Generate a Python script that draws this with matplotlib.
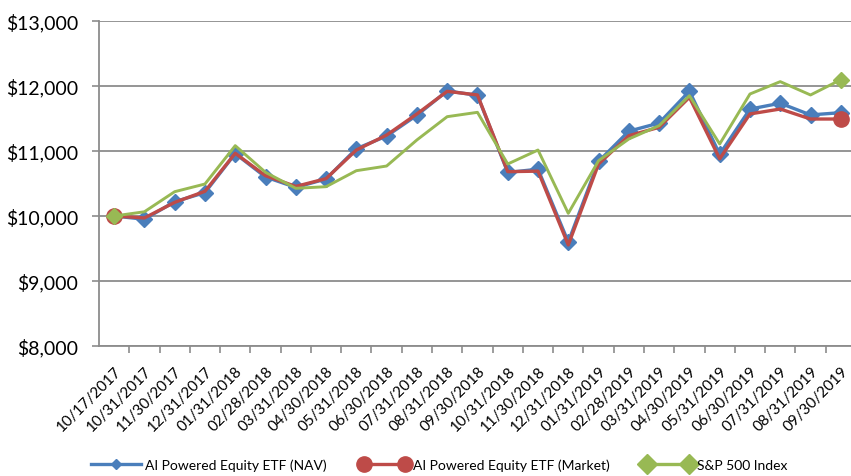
import matplotlib.pyplot as plt
from matplotlib.lines import Line2D
from matplotlib.legend_handler import HandlerLine2D
from matplotlib.ticker import FuncFormatter

plt.rcParams['font.family'] = ['Lato', 'DejaVu Sans']

# Datos
dates = ['10/17/2017', '10/31/2017', '11/30/2017', '12/31/2017', '01/31/2018',
         '02/28/2018', '03/31/2018', '04/30/2018', '05/31/2018', '06/30/2018',
         '07/31/2018', '08/31/2018', '09/30/2018', '10/31/2018', '11/30/2018',
         '12/31/2018', '01/31/2019', '02/28/2019', '03/31/2019', '04/30/2019',
         '05/31/2019', '06/30/2019', '07/31/2019', '08/31/2019', '09/30/2019']

nav = [10000, 9950, 10220, 10360, 10960, 10600, 10440, 10570, 11035, 11230,
       11550, 11925, 11855, 10670, 10720, 9600, 10840, 11305, 11430, 11920,
       10950, 11645, 11735, 11555, 11590]

market = [10000, 9970, 10210, 10380, 10965, 10620, 10455, 10575, 11015, 11245,
          11570, 11918, 11862, 10682, 10690, 9555, 10800, 11236, 11364, 11826,
          10880, 11570, 11646, 11492, 11492]

sp500 = [10000, 10065, 10374, 10492, 11082, 10672, 10426, 10451, 10697, 10769,
         11170, 11528, 11595, 10800, 11015, 10041, 10851, 11185, 11390, 11851,
         11108, 11877, 12067, 11862, 12097]

labels = ['AI Powered Equity ETF (NAV)', 'AI Powered Equity ETF (Market)', 'S&P 500 Index']

blue = '#4A7EBB'
red = '#BE4B48'
green = '#98B954'
grey = '#8C8C8C'

fig = plt.figure(figsize=(8.51, 4.77), dpi=100)
ax = fig.add_axes([0.1163, 0.2725, 0.8895, 0.6814])

x = list(range(len(dates)))
last = len(dates) - 1

ax.plot(x, nav, color=blue, lw=2.4, marker='D', ms=8, mec=blue, mfc=blue, zorder=3)
ax.plot(x, market, color=red, lw=2.4, marker='o', ms=11, markevery=[0, last],
        mec=red, mfc=red, zorder=4)
ax.plot(x, sp500, color=green, lw=2.1, marker='D', ms=8, markevery=[0, last],
        mec=green, mfc=green, zorder=5)

ax.set_ylim(8000, 13000)
ax.set_xlim(-0.5, len(dates) - 0.5)
ax.set_yticks(range(8000, 13001, 1000))
ax.yaxis.set_major_formatter(FuncFormatter(lambda v, p: '${:,.0f}'.format(v)))
ax.grid(axis='y', color=grey, lw=1.3)
ax.set_axisbelow(True)

ax.set_xticks(x)
ax.set_xticklabels(dates, rotation=45, ha='right', rotation_mode='anchor', fontsize=11)
ax.set_xticks([i + 0.5 for i in x[:-1]], minor=True)
ax.tick_params(axis='x', which='major', length=0, pad=13)
ax.tick_params(axis='x', which='minor', length=5, width=1.2, color=grey)
ax.tick_params(axis='y', length=5, width=1.2, color=grey, labelsize=14, pad=10)

for s in ['top', 'right']:
    ax.spines[s].set_visible(False)
for s in ['left', 'bottom']:
    ax.spines[s].set_color(grey)
    ax.spines[s].set_linewidth(1.3)

h1 = Line2D([], [], color=blue, lw=2.4, marker='D', ms=5)
h2 = Line2D([], [], color=red, lw=2.4, marker='o', ms=11)
h3 = Line2D([], [], color=green, lw=2.4, marker='D', ms=10)
fig.legend([h1, h2, h3], labels, loc='center', bbox_to_anchor=(0.516, 0.023),
           ncol=3, frameon=False, fontsize=10, handlelength=3.6,
           handletextpad=0.25, columnspacing=2.4,
           handler_map={h1: HandlerLine2D(numpoints=1),
                        h2: HandlerLine2D(numpoints=2),
                        h3: HandlerLine2D(numpoints=2)})

fig.savefig('out.png', dpi=100)
